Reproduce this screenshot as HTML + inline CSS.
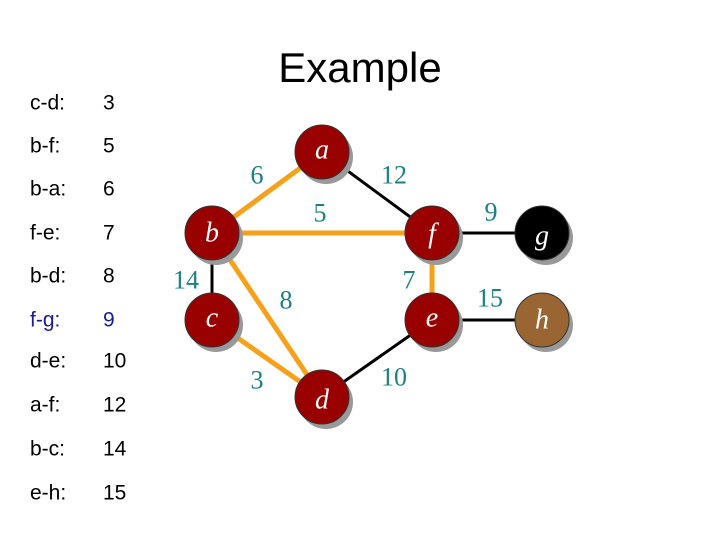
<!DOCTYPE html>
<html><head><style>
body{margin:0;background:#fff;}
svg{display:block}
</style></head><body>
<svg width="720" height="540" viewBox="0 0 720 540" xmlns="http://www.w3.org/2000/svg">
<rect width="720" height="540" fill="#fff"/>
<text x="360" y="82" font-family="Liberation Sans, sans-serif" font-size="42" text-anchor="middle" fill="#000">Example</text>
<g font-family="Liberation Sans, sans-serif" font-size="21" fill="#000" dominant-baseline="central">
<text x="30" y="103">c-d:</text><text x="103" y="103">3</text>
<text x="30" y="146">b-f:</text><text x="103" y="146">5</text>
<text x="30" y="189">b-a:</text><text x="103" y="189">6</text>
<text x="30" y="233">f-e:</text><text x="103" y="233">7</text>
<text x="30" y="276">b-d:</text><text x="103" y="276">8</text>
<text x="30" y="320" fill="#1a1a99">f-g:</text><text x="103" y="320" fill="#1a1a99">9</text>
<text x="30" y="361">d-e:</text><text x="103" y="361">10</text>
<text x="30" y="405">a-f:</text><text x="103" y="405">12</text>
<text x="30" y="449">b-c:</text><text x="103" y="449">14</text>
<text x="30" y="493">e-h:</text><text x="103" y="493">15</text>
</g>
<g stroke="#000" stroke-width="3">
<line x1="322" y1="152" x2="432" y2="233"/>
<line x1="212" y1="233" x2="212" y2="320"/>
<line x1="322" y1="397" x2="432" y2="320"/>
<line x1="432" y1="233" x2="542" y2="233"/>
<line x1="432" y1="320" x2="542" y2="320"/>
</g>
<g stroke="#f7a11a" stroke-width="5">
<line x1="322" y1="152" x2="212" y2="233"/>
<line x1="212" y1="233" x2="432" y2="233"/>
<line x1="212" y1="233" x2="322" y2="397"/>
<line x1="212" y1="320" x2="322" y2="397"/>
<line x1="432" y1="233" x2="432" y2="320"/>
</g>
<g fill="#999">
<circle cx="326" cy="157" r="27"/><circle cx="216" cy="238" r="27"/><circle cx="216" cy="325" r="27"/>
<circle cx="326" cy="402" r="27"/><circle cx="436" cy="238" r="27"/><circle cx="436" cy="325" r="27"/>
<circle cx="546" cy="238" r="27"/><circle cx="546" cy="325" r="27"/>
</g>
<g stroke="#333" stroke-width="1">
<circle cx="322" cy="152" r="27" fill="#990000"/>
<circle cx="212" cy="233" r="27" fill="#990000"/>
<circle cx="212" cy="320" r="27" fill="#990000"/>
<circle cx="322" cy="397" r="27" fill="#990000"/>
<circle cx="432" cy="233" r="27" fill="#990000"/>
<circle cx="432" cy="320" r="27" fill="#990000"/>
<circle cx="542" cy="233" r="27" fill="#000"/>
<circle cx="542" cy="320" r="27" fill="#996633"/>
</g>
<g font-family="Liberation Serif, serif" font-style="italic" font-size="28" fill="#fff" text-anchor="middle" dominant-baseline="central">
<text x="322" y="150">a</text><text x="212" y="233">b</text><text x="212" y="318">c</text>
<text x="322" y="400">d</text><text x="432" y="234">f</text><text x="432" y="318">e</text>
<text x="542" y="236">g</text><text x="542" y="320">h</text>
</g>
<g font-family="Liberation Serif, serif" font-size="26" fill="#1a8080" text-anchor="middle" dominant-baseline="central">
<text x="257" y="175">6</text><text x="394" y="175">12</text><text x="320" y="213">5</text>
<text x="491" y="212">9</text><text x="186" y="280">14</text><text x="286" y="300">8</text>
<text x="409" y="280">7</text><text x="490" y="298">15</text><text x="257" y="380">3</text>
<text x="394" y="377">10</text>
</g>
</svg>
</body></html>
